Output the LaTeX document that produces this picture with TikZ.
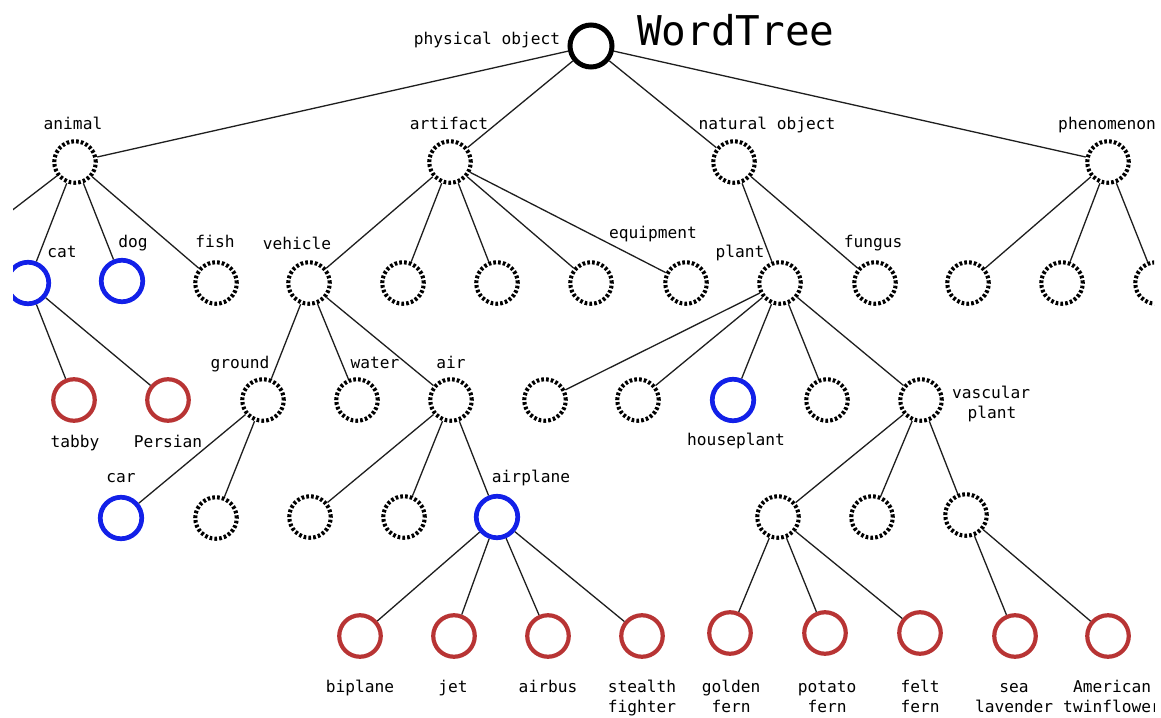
\documentclass[tikz,border=0pt]{standalone}
\usepackage{fontspec}
\setmainfont{DejaVu Sans Mono}
\definecolor{wtblue}{RGB}{18,32,232}
\definecolor{wtred}{RGB}{184,52,52}
\definecolor{wtedge}{RGB}{30,30,30}
\begin{document}
\begin{tikzpicture}[x=1pt,y=-1pt,
  ring/.style={circle,minimum size=41.5pt,inner sep=0pt},
  dashring/.style={ring,draw=black,line width=4.1pt,dash pattern=on 2.7pt off 2.1pt},
  bluering/.style={ring,draw=wtblue,line width=4.7pt},
  redring/.style={ring,draw=wtred,line width=4.2pt},
  rootring/.style={ring,minimum size=42pt,draw=black,line width=5pt},
  lbl/.style={font=\fontsize{16.2}{19}\selectfont,inner sep=0pt,anchor=base,align=center},
  edge/.style={draw=wtedge,line width=1.3pt}]
\useasboundingbox (0,0) rectangle (1161,717);
\fill[white] (0,0) rectangle (1161,717);
\begin{scope}
\clip (13,0) rectangle (1154,717);
% level 0
\node[rootring] (root) at (591,46) {};
% level 1
\node[dashring] (animal) at (75,162) {};
\node[dashring] (artifact) at (450,162) {};
\node[dashring] (natobj) at (734,162) {};
\node[dashring] (phen) at (1108,162) {};
\coordinate (offl) at (-20,235);
% level 2
\node[bluering] (cat) at (28,283) {};
\node[bluering] (dog) at (122,281) {};
\node[dashring] (fish) at (216,283) {};
\node[dashring] (vehicle) at (309,283) {};
\node[dashring] (art2) at (403,283) {};
\node[dashring] (art3) at (497,283) {};
\node[dashring] (art4) at (591,283) {};
\node[dashring] (equip) at (686,283) {};
\node[dashring] (plant) at (780,283) {};
\node[dashring] (fungus) at (875,283) {};
\node[dashring] (ph1) at (968,283) {};
\node[dashring] (ph2) at (1062,283) {};
\node[dashring] (ph3) at (1156,283) {};
% level 3
\node[redring] (tabby) at (74,400) {};
\node[redring] (persian) at (168,400) {};
\node[dashring] (ground) at (263,400) {};
\node[dashring] (water) at (357,400) {};
\node[dashring] (air) at (451,400) {};
\node[dashring] (pl1) at (545,400) {};
\node[dashring] (pl2) at (638,400) {};
\node[bluering] (house) at (733,400) {};
\node[dashring] (pl4) at (827,400) {};
\node[dashring] (vasc) at (921,400) {};
% level 4
\node[bluering] (car) at (121,518) {};
\node[dashring] (gr2) at (216,518) {};
\node[dashring] (air1) at (310,517) {};
\node[dashring] (air2) at (404,517) {};
\node[bluering] (airplane) at (497,517) {};
\node[dashring] (va1) at (778,517) {};
\node[dashring] (va2) at (872,517) {};
\node[dashring] (va3) at (966,515) {};
% level 5
\node[redring] (biplane) at (360,636) {};
\node[redring] (jet) at (454,636) {};
\node[redring] (airbus) at (548,636) {};
\node[redring] (stealth) at (642,636) {};
\node[redring] (golden) at (730,633) {};
\node[redring] (potato) at (825,633) {};
\node[redring] (felt) at (920,633) {};
\node[redring] (sea) at (1015,636) {};
\node[redring] (amer) at (1108,636) {};
% edges
\foreach \a/\b in {root/animal,root/artifact,root/natobj,root/phen,
  animal/offl,animal/cat,animal/dog,animal/fish,
  artifact/vehicle,artifact/art2,artifact/art3,artifact/art4,artifact/equip,
  natobj/plant,natobj/fungus,
  phen/ph1,phen/ph2,phen/ph3,
  cat/tabby,cat/persian,
  vehicle/ground,vehicle/water,vehicle/air,
  plant/pl1,plant/pl2,plant/house,plant/pl4,plant/vasc,
  ground/car,ground/gr2,
  air/air1,air/air2,air/airplane,
  airplane/biplane,airplane/jet,airplane/airbus,airplane/stealth,
  vasc/va1,vasc/va2,vasc/va3,
  va1/golden,va1/potato,va1/felt,
  va3/sea,va3/amer}
  \draw[edge] (\a) -- (\b);
% labels
\node[inner sep=0pt,anchor=base west,font=\fontsize{41}{45}\selectfont] (title) at (637,46) {WordTree};
\node[lbl] (Lroot) at (487,45) {physical object};
\node[lbl] (Lanimal) at (73,129) {animal};
\node[lbl] (Lartifact) at (449,129) {artifact};
\node[lbl] (Lnatobj) at (767,129) {natural object};
\node[lbl] (Lphen) at (1107,129) {phenomenon};
\node[lbl] (Lcat) at (62,257) {cat};
\node[lbl] (Ldog) at (133,247) {dog};
\node[lbl] (Lfish) at (215,247) {fish};
\node[lbl] (Lvehicle) at (297,249) {vehicle};
\node[lbl] (Lequip) at (653,238) {equipment};
\node[lbl] (Lplant) at (740,257) {plant};
\node[lbl] (Lfungus) at (873,247) {fungus};
\node[lbl] (Lground) at (240,368) {ground};
\node[lbl] (Lwater) at (375,368) {water};
\node[lbl] (Lair) at (451,368) {air};
\node[lbl] (Ltabby) at (75,447) {tabby};
\node[lbl] (Lpersian) at (168,447) {Persian};
\node[lbl] (Lhouse) at (736,445) {houseplant};
\node[lbl] (Lvasc) at (991,398) {vascular};
\node[lbl] (Lvasc2) at (992,418) {plant};
\node[lbl] (Lcar) at (121,482) {car};
\node[lbl] (Lairplane) at (531,482) {airplane};
\node[lbl] (Lbiplane) at (360,692) {biplane};
\node[lbl] (Ljet) at (453,692) {jet};
\node[lbl] (Lairbus) at (548,692) {airbus};
\node[lbl] (Lstealth) at (642,692) {stealth};
\node[lbl] (Lstealth2) at (642,712) {fighter};
\node[lbl] (Lgolden) at (731,692) {golden};
\node[lbl] (Lgolden2) at (731,712) {fern};
\node[lbl] (Lpotato) at (827,692) {potato};
\node[lbl] (Lpotato2) at (827,712) {fern};
\node[lbl] (Lfelt) at (920,692) {felt};
\node[lbl] (Lfelt2) at (920,712) {fern};
\node[lbl] (Lsea) at (1014,692) {sea};
\node[lbl] (Lsea2) at (1014,712) {lavender};
\node[lbl] (Lamer) at (1112,692) {American};
\node[lbl] (Lamer2) at (1112,712) {twinflower};
\end{scope}
\end{tikzpicture}
\end{document}
